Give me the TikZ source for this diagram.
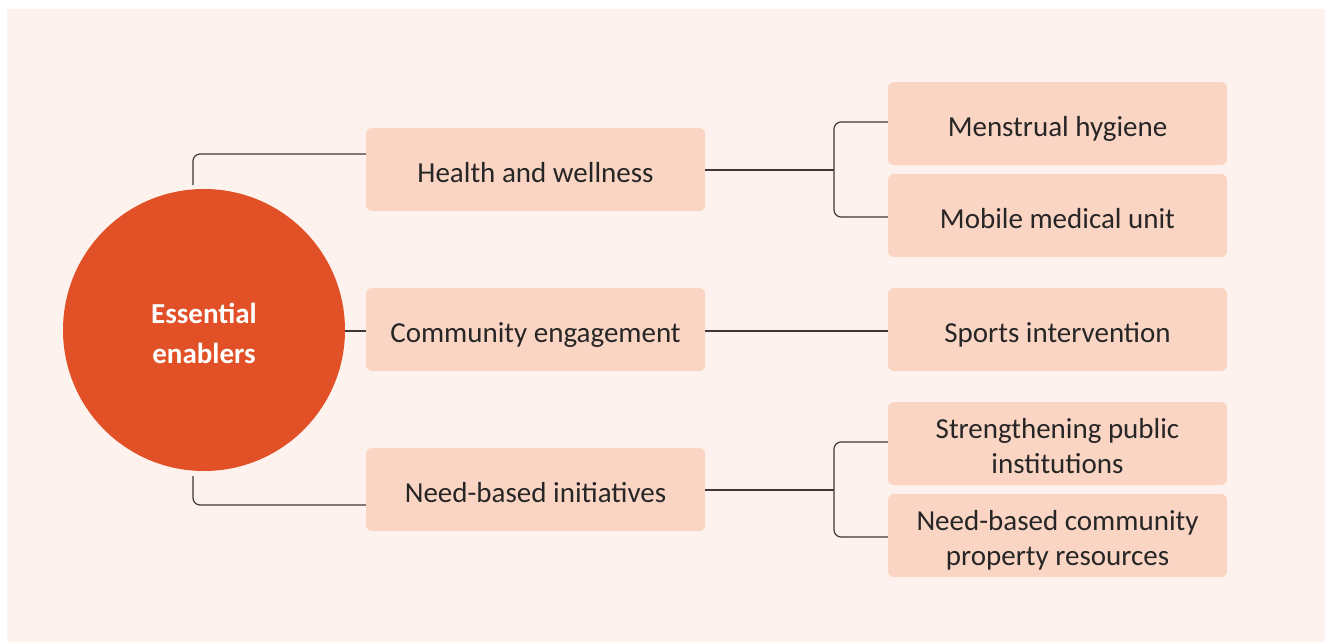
\documentclass[tikz,border=0pt]{standalone}
\usepackage{fontspec}
\setmainfont{Carlito}
\definecolor{bgc}{RGB}{253,242,237}
\definecolor{boxc}{RGB}{251,213,195}
\definecolor{circc}{RGB}{225,80,38}
\definecolor{linec}{RGB}{60,56,56}
\definecolor{txtc}{RGB}{38,38,38}
\newcommand\lbl[1]{\raisebox{-5.5pt}[\height][\depth]{\begin{tabular}{@{}c@{}}#1\end{tabular}}}
\begin{document}
\begin{tikzpicture}[x=1pt,y=-1pt,
  tbox/.style={fill=boxc,rounded corners=6pt,minimum width=339pt,minimum height=83pt,inner sep=0pt,font=\fontsize{29}{35}\selectfont,text=txtc},
  conn/.style={draw=linec,line width=1.2pt,rounded corners=7pt}]
\useasboundingbox (0,0) rectangle (1325,642);
\fill[bgc] (7,9) rectangle (1325,642);
\node[circle,fill=circc,minimum size=282pt,inner sep=0pt,text=white,font=\bfseries\fontsize{29}{40}\selectfont] (c) at (204,330) {\lbl{Essential\\enablers}};
\node[tbox] (h) at (535.5,169.5) {\lbl{Health and wellness}};
\node[tbox] (e) at (535.5,329.5) {\lbl{Community engagement}};
\node[tbox] (n) at (535.5,489.5) {\lbl{Need-based initiatives}};
\node[tbox] (m) at (1057.5,123.5) {\lbl{Menstrual hygiene}};
\node[tbox] (u) at (1057.5,215.5) {\lbl{Mobile medical unit}};
\node[tbox] (s) at (1057.5,329.5) {\lbl{Sports intervention}};
\node[tbox] (p) at (1057.5,443.5) {\lbl{Strengthening public\\institutions}};
\node[tbox] (r) at (1057.5,535.5) {\lbl{Need-based community\\property resources}};
\coordinate (ct) at (193,185);
\coordinate (cb) at (193,476);
\draw[conn] (ct) |- (h.west |- 0,154);
\draw[conn] (cb) |- (n.west |- 0,505);
\draw[conn] (c.east |- 0,331) -- (e.west |- 0,331);
\draw[conn] (e.east |- 0,331) -- (s.west |- 0,331);
\draw[conn] (h.east |- 0,170) -- (834,170);
\draw[conn] (m.west |- 0,122) -| (834,170) |- (u.west |- 0,217);
\draw[conn] (n.east |- 0,490) -- (834,490);
\draw[conn] (p.west |- 0,442) -| (834,490) |- (r.west |- 0,537);
\end{tikzpicture}
\end{document}
